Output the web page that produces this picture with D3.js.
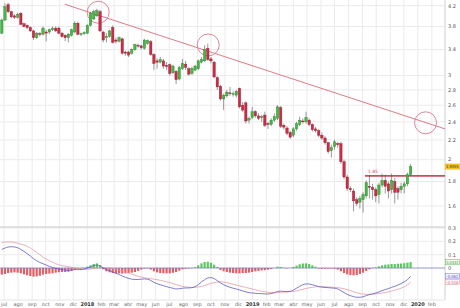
<!DOCTYPE html>
<html><head><meta charset="utf-8">
<script src="https://cdn.jsdelivr.net/npm/d3@7"></script>
<style>body{margin:0;background:#fff}svg{display:block;font-family:"DejaVu Sans",sans-serif}</style>
</head><body><svg id="c" width="460" height="308"></svg>
<script>
// ---------- data ----------
const firstWeek = "2017-06-26";
const opens  = [3.68,3.92,4.22,4.08,4.00,3.97,4.05,3.85,3.82,3.78,3.72,3.60,3.67,3.66,3.70,3.70,3.74,3.77,3.77,3.68,3.64,3.60,3.64,3.70,3.86,3.66,3.67,3.68,3.82,3.94,4.00,4.08,3.70,3.60,3.62,3.78,3.56,3.54,3.58,3.36,3.36,3.34,3.40,3.47,3.46,3.42,3.50,3.53,3.32,3.22,3.20,3.22,3.15,3.16,3.04,3.06,2.95,3.10,3.17,3.10,3.03,3.08,3.10,3.20,3.22,3.42,3.25,3.20,2.97,2.85,2.68,2.72,2.76,2.74,2.73,2.82,2.60,2.63,2.42,2.45,2.52,2.47,2.45,2.48,2.38,2.37,2.42,2.44,2.57,2.36,2.33,2.28,2.25,2.32,2.37,2.41,2.40,2.42,2.37,2.32,2.30,2.25,2.22,2.17,2.09,2.13,2.16,2.16,1.98,1.84,1.74,1.72,1.65,1.63,1.65,1.68,1.76,1.75,1.73,1.69,1.77,1.81,1.78,1.73,1.80,1.74,1.73,1.76,1.78,1.86];
const highs  = [3.95,4.25,4.26,4.10,4.03,4.06,4.07,3.87,3.84,3.80,3.74,3.70,3.70,3.80,3.74,3.76,3.80,3.80,3.80,3.70,3.66,3.68,3.76,3.90,3.89,3.69,3.71,3.84,4.08,4.12,4.14,4.12,3.72,3.68,3.74,3.82,3.60,3.62,3.60,3.38,3.38,3.42,3.50,3.50,3.48,3.58,3.57,3.56,3.34,3.26,3.28,3.25,3.20,3.18,3.16,3.08,3.14,3.25,3.22,3.12,3.13,3.16,3.24,3.28,3.47,3.50,3.28,3.22,2.99,2.87,2.75,2.80,2.84,2.78,2.80,2.83,2.64,2.65,2.46,2.58,2.54,2.50,2.48,2.52,2.40,2.44,2.50,2.60,2.59,2.38,2.35,2.30,2.34,2.40,2.46,2.44,2.52,2.44,2.38,2.34,2.32,2.28,2.24,2.18,2.15,2.20,2.18,2.18,2.00,1.86,1.76,1.74,1.67,1.68,1.71,1.81,1.86,1.78,1.75,1.79,1.87,1.86,1.80,1.87,1.83,1.76,1.79,1.80,1.88,1.96];
const lows   = [3.66,3.90,4.05,3.95,3.94,3.95,3.82,3.78,3.75,3.70,3.56,3.58,3.62,3.64,3.54,3.66,3.72,3.70,3.66,3.60,3.54,3.52,3.62,3.68,3.64,3.63,3.65,3.66,3.80,3.92,3.98,3.70,3.52,3.52,3.60,3.50,3.50,3.52,3.32,3.30,3.28,3.32,3.38,3.43,3.40,3.40,3.48,3.30,3.08,3.10,3.18,3.10,3.08,3.00,3.02,2.88,2.93,3.08,3.08,3.00,3.01,3.06,3.08,3.18,3.20,3.22,3.18,2.96,2.80,2.66,2.54,2.70,2.72,2.71,2.70,2.56,2.52,2.38,2.38,2.43,2.45,2.42,2.40,2.34,2.32,2.35,2.40,2.42,2.33,2.31,2.25,2.21,2.23,2.30,2.35,2.38,2.38,2.35,2.29,2.28,2.23,2.20,2.15,2.06,2.02,2.10,2.12,1.96,1.82,1.72,1.71,1.56,1.60,1.58,1.55,1.66,1.66,1.65,1.63,1.62,1.75,1.70,1.66,1.70,1.62,1.65,1.70,1.70,1.76,1.85];
const closes = [3.92,4.18,4.08,3.98,3.97,4.03,3.84,3.80,3.78,3.72,3.60,3.68,3.66,3.77,3.68,3.74,3.77,3.72,3.68,3.62,3.60,3.66,3.74,3.86,3.66,3.67,3.69,3.82,4.05,4.08,4.10,3.72,3.56,3.62,3.72,3.52,3.54,3.60,3.34,3.34,3.31,3.40,3.48,3.46,3.43,3.56,3.55,3.32,3.18,3.20,3.24,3.14,3.13,3.03,3.14,2.94,3.12,3.18,3.12,3.02,3.10,3.14,3.22,3.24,3.40,3.24,3.22,2.98,2.84,2.68,2.73,2.77,2.75,2.75,2.78,2.58,2.54,2.41,2.44,2.52,2.47,2.44,2.46,2.36,2.37,2.42,2.46,2.58,2.35,2.34,2.27,2.23,2.32,2.38,2.42,2.40,2.45,2.37,2.31,2.30,2.25,2.22,2.17,2.08,2.12,2.18,2.15,1.98,1.84,1.74,1.73,1.64,1.62,1.66,1.69,1.79,1.75,1.73,1.68,1.77,1.81,1.76,1.72,1.81,1.71,1.71,1.76,1.78,1.86,1.935];

const macd   = [0.140,0.150,0.158,0.160,0.158,0.152,0.140,0.125,0.108,0.090,0.070,0.055,0.042,0.032,0.022,0.012,0.004,-0.002,-0.008,-0.012,-0.016,-0.018,-0.016,-0.012,-0.012,-0.012,-0.008,0.000,0.010,0.018,0.022,0.015,0.000,-0.012,-0.020,-0.030,-0.040,-0.048,-0.060,-0.070,-0.078,-0.084,-0.086,-0.086,-0.084,-0.082,-0.084,-0.094,-0.108,-0.118,-0.126,-0.133,-0.140,-0.147,-0.152,-0.158,-0.156,-0.152,-0.150,-0.150,-0.148,-0.140,-0.125,-0.105,-0.088,-0.075,-0.072,-0.080,-0.095,-0.112,-0.126,-0.136,-0.145,-0.152,-0.158,-0.165,-0.172,-0.180,-0.185,-0.188,-0.190,-0.192,-0.193,-0.195,-0.195,-0.192,-0.186,-0.176,-0.174,-0.176,-0.178,-0.176,-0.166,-0.152,-0.138,-0.126,-0.120,-0.120,-0.126,-0.132,-0.140,-0.144,-0.146,-0.148,-0.150,-0.152,-0.158,-0.170,-0.185,-0.198,-0.208,-0.215,-0.220,-0.220,-0.216,-0.208,-0.200,-0.194,-0.188,-0.180,-0.170,-0.162,-0.155,-0.146,-0.138,-0.128,-0.117,-0.104,-0.088,-0.062];
const signal = [0.190,0.195,0.196,0.195,0.191,0.187,0.180,0.173,0.163,0.150,0.135,0.118,0.100,0.082,0.067,0.054,0.044,0.033,0.024,0.018,0.014,0.010,0.006,0.000,-0.004,-0.007,-0.010,-0.010,-0.008,-0.004,0.000,0.002,0.003,0.002,0.000,-0.004,-0.010,-0.016,-0.022,-0.030,-0.038,-0.046,-0.054,-0.062,-0.068,-0.073,-0.077,-0.080,-0.084,-0.088,-0.093,-0.098,-0.104,-0.110,-0.116,-0.124,-0.132,-0.138,-0.142,-0.145,-0.146,-0.145,-0.143,-0.138,-0.132,-0.124,-0.116,-0.110,-0.106,-0.104,-0.106,-0.110,-0.116,-0.122,-0.128,-0.134,-0.140,-0.146,-0.152,-0.158,-0.164,-0.170,-0.175,-0.179,-0.182,-0.184,-0.185,-0.185,-0.183,-0.181,-0.180,-0.178,-0.176,-0.172,-0.166,-0.160,-0.154,-0.149,-0.145,-0.142,-0.140,-0.140,-0.141,-0.142,-0.144,-0.146,-0.148,-0.151,-0.156,-0.162,-0.170,-0.178,-0.186,-0.192,-0.196,-0.198,-0.198,-0.197,-0.195,-0.192,-0.188,-0.184,-0.179,-0.173,-0.167,-0.160,-0.152,-0.142,-0.128,-0.106];
const hist   = [-0.050,-0.045,-0.038,-0.035,-0.033,-0.035,-0.040,-0.048,-0.055,-0.060,-0.065,-0.063,-0.058,-0.050,-0.045,-0.042,-0.040,-0.035,-0.032,-0.030,-0.030,-0.028,-0.022,-0.012,-0.008,-0.005,0.002,0.010,0.020,0.030,0.035,0.022,-0.010,-0.025,-0.032,-0.038,-0.040,-0.040,-0.042,-0.040,-0.038,-0.035,-0.030,-0.022,-0.012,-0.005,-0.004,-0.012,-0.025,-0.033,-0.038,-0.040,-0.040,-0.040,-0.036,-0.030,-0.020,-0.010,-0.006,-0.004,-0.002,0.005,0.020,0.035,0.045,0.047,0.040,0.025,0.008,-0.015,-0.025,-0.030,-0.035,-0.038,-0.040,-0.040,-0.038,-0.038,-0.035,-0.030,-0.025,-0.022,-0.018,-0.016,-0.013,-0.008,0.000,0.010,0.008,0.002,-0.002,0.000,0.008,0.018,0.028,0.034,0.035,0.030,0.020,0.010,-0.004,-0.006,-0.006,-0.005,-0.004,-0.006,-0.012,-0.025,-0.038,-0.048,-0.053,-0.055,-0.053,-0.045,-0.035,-0.022,-0.010,-0.002,0.005,0.012,0.020,0.025,0.027,0.030,0.030,0.032,0.034,0.036,0.040,0.0443];

const priceTicks = [4.2,3.8,3.4,3,2.8,2.6,2.4,2.2,2,1.8,1.6];
const macdTicks = [0.3,0.2,0.1,0];
const firstMonth = "2017-07-01";
const monthLabels = ["jul","ago","sep","oct","nov","dic","2018","feb","mar","abr","may","jun","jul","ago","sep","oct","nov","dic","2019","feb","mar","abr","may","jun","jul","ago","sep","oct","nov","dic","2020","feb"];
const trendDates = ["2017-11-12","2020-03-01"];
const trendPrices = [4.23,2.32];
const circleDates = ["2018-01-25","2018-09-25","2020-01-18"];
const circlePrices = [4.07,3.476,2.389];
const resistDate = "2019-09-06";
const resistPrice = 1.85;
const resistLabel = "1.85";
const lastPriceLabel = "1.9355";
const histLabel = "0.0443", macdLabel = "-0.062", signalLabel = "-0.106";

// ---------- layout ----------
const plotR = 445;
const pTop = 0, pBot = 226, mTop = 228, mBot = 300;
const parse = d3.utcParse("%Y-%m-%d");
const svg = d3.select("#c");

const x = d3.scaleUtc().domain([parse("2017-06-22"), parse("2020-03-01")]).range([0, plotR]);
const y = d3.scaleLog().domain([1.453, 4.317]).range([pBot, pTop]);
const ym = d3.scaleLinear().domain([-0.2406, 0.3008]).range([mBot, mTop]);

const weeks = opens.map((_, i) => d3.utcWeek.offset(parse(firstWeek), i));
const candles = weeks.map((d, i) => ({d, o: opens[i], h: highs[i], l: lows[i], c: closes[i], m: macd[i], s: signal[i], hi: hist[i]}));
const months = monthLabels.map((t, i) => ({t, d: d3.utcMonth.offset(parse(firstMonth), i)}));

// grid
const g = svg.append("g");
g.selectAll(".vg").data(months).join("line")
  .attr("x1", d => x(d.d)).attr("x2", d => x(d.d)).attr("y1", 0).attr("y2", mBot)
  .attr("stroke", "#ebebeb").attr("stroke-width", 1);
g.selectAll(".hg").data(priceTicks).join("line")
  .attr("x1", 0).attr("x2", plotR).attr("y1", d => y(d)).attr("y2", d => y(d))
  .attr("stroke", "#ebebeb");
g.selectAll(".hm").data(macdTicks.slice(0, 3)).join("line")
  .attr("x1", 0).attr("x2", plotR).attr("y1", d => ym(d)).attr("y2", d => ym(d))
  .attr("stroke", "#ebebeb");
// panel separators
svg.append("line").attr("x1", 0).attr("x2", plotR).attr("y1", 227).attr("y2", 227).attr("stroke", "#d8d8d8").attr("stroke-width", 1.5);
svg.append("line").attr("x1", plotR).attr("x2", plotR).attr("y1", 0).attr("y2", mBot).attr("stroke", "#d0d0d0");
svg.append("line").attr("x1", 0).attr("x2", plotR).attr("y1", mBot).attr("y2", mBot).attr("stroke", "#e4e4e4");

// trend line & circles
svg.append("line")
  .attr("x1", x(parse(trendDates[0]))).attr("y1", y(trendPrices[0]))
  .attr("x2", x(parse(trendDates[1]))).attr("y2", y(trendPrices[1]))
  .attr("stroke", "#e07a88").attr("stroke-width", 1);
svg.selectAll(".circ").data(circleDates).join("circle")
  .attr("cx", d => x(parse(d))).attr("cy", (d, i) => y(circlePrices[i])).attr("r", 11)
  .attr("fill", "none").attr("stroke", "#d98896").attr("stroke-width", 1);

// resistance line
svg.append("line").attr("x1", x(parse(resistDate))).attr("x2", plotR)
  .attr("y1", y(resistPrice)).attr("y2", y(resistPrice))
  .attr("stroke", "#c8505e").attr("stroke-width", 1.6);
svg.append("text").attr("x", x(parse(resistDate)) + 3).attr("y", y(resistPrice) - 2.5)
  .attr("font-size", 4.5).attr("fill", "#c8505e").text(resistLabel);

// candles
const cg = svg.append("g");
const bw = 2.4;
cg.selectAll(".wick").data(candles).join("line")
  .attr("x1", d => x(d.d)).attr("x2", d => x(d.d)).attr("y1", d => y(d.h)).attr("y2", d => y(d.l))
  .attr("stroke", "#555").attr("stroke-width", 0.6);
cg.selectAll(".body").data(candles).join("rect")
  .attr("x", d => x(d.d) - bw / 2).attr("width", bw)
  .attr("y", d => y(Math.max(d.o, d.c)))
  .attr("height", d => Math.max(0.8, Math.abs(y(d.o) - y(d.c))))
  .attr("fill", d => d.c >= d.o ? "#44b845" : "#cf2b46")
  .attr("stroke", d => d.c >= d.o ? "#2d7f30" : "#8e1d30").attr("stroke-width", 0.4);

// MACD histogram
svg.selectAll(".hb").data(candles).join("rect")
  .attr("x", d => x(d.d) - 1.1).attr("width", 2.2)
  .attr("y", d => Math.min(ym(0), ym(d.hi)))
  .attr("height", d => Math.abs(ym(d.hi) - ym(0)))
  .attr("fill", d => d.hi >= 0 ? "#5cc95c" : "#e0606a");
svg.append("line").attr("x1", 0).attr("x2", plotR).attr("y1", ym(0)).attr("y2", ym(0))
  .attr("stroke", "#7c7cc0").attr("stroke-width", 0.8);
const ln = (k) => d3.line().x(d => x(d.d)).y(d => ym(d[k])).curve(d3.curveMonotoneX);
svg.append("path").datum(candles).attr("d", ln("s")).attr("fill", "none").attr("stroke", "#e39aa8").attr("stroke-width", 0.8);
svg.append("path").datum(candles).attr("d", ln("m")).attr("fill", "none").attr("stroke", "#5a5ac8").attr("stroke-width", 0.8);

// right axis labels
const fs = 5;
svg.selectAll(".pt").data(priceTicks).join("text")
  .attr("x", 448).attr("y", d => y(d) + 1.8).attr("font-size", fs).attr("fill", "#555")
  .text(d => String(d));
svg.selectAll(".mt").data(macdTicks).join("text")
  .attr("x", 448).attr("y", d => ym(d) + 1.8).attr("font-size", fs).attr("fill", "#555")
  .text(d => String(d));

// last price box
const lastY = y(closes[closes.length - 1]);
svg.append("rect").attr("x", 445).attr("y", lastY - 3).attr("width", 15).attr("height", 6).attr("fill", "#f2c22a");
svg.append("text").attr("x", 446).attr("y", lastY + 1.6).attr("font-size", 4.2)
  .attr("textLength", 12.5).attr("lengthAdjust", "spacingAndGlyphs").attr("fill", "#333").text(lastPriceLabel);

// MACD value boxes
const boxes = [
  {v: hist[hist.length - 1], t: histLabel, c: "#3fa53f", f: "#eef9ee"},
  {v: macd[macd.length - 1], t: macdLabel, c: "#5a5ac8", f: "#f1f1fb"},
  {v: signal[signal.length - 1], t: signalLabel, c: "#d9808f", f: "#fcf0f2"}
];
boxes.forEach(b => {
  svg.append("rect").attr("x", 445.5).attr("y", ym(b.v) - 2.7).attr("width", 14).attr("height", 5.4)
    .attr("fill", b.f).attr("stroke", b.c).attr("stroke-width", 0.4);
  svg.append("text").attr("x", 446.3).attr("y", ym(b.v) + 1.5).attr("font-size", 4.0)
    .attr("textLength", 12).attr("lengthAdjust", "spacingAndGlyphs").attr("fill", b.c).text(b.t);
});

// x axis labels
svg.selectAll(".xl").data(months).join("text")
  .attr("x", d => x(d.d)).attr("y", 306).attr("text-anchor", "middle")
  .attr("font-size", fs).attr("font-weight", d => /^\d/.test(d.t) ? "bold" : "normal")
  .attr("fill", d => /^\d/.test(d.t) ? "#333" : "#666")
  .text(d => d.t);
</script></body></html>
